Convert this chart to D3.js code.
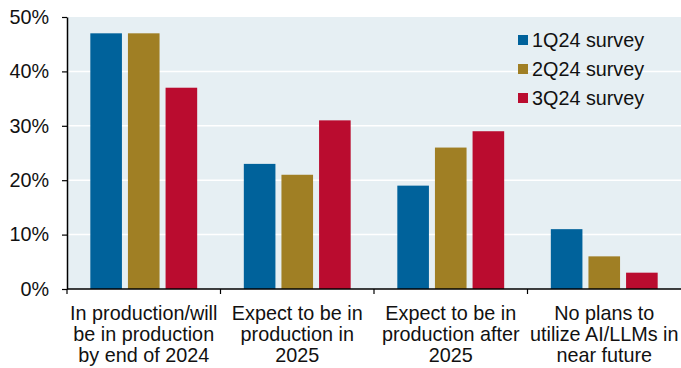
<!DOCTYPE html>
<html>
<head>
<meta charset="utf-8">
<script src="https://cdn.jsdelivr.net/npm/d3@7"></script>
<style>
  html, body { margin: 0; padding: 0; background: #fff; }
  svg { display: block; font-family: Arial, "Liberation Sans", sans-serif; }
</style>
</head>
<body>
<div id="chart"></div>
<script>
// survey results, share of respondents
const categories = [
  ["In production/will", "be in production", "by end of 2024"],
  ["Expect to be in", "production in", "2025"],
  ["Expect to be in", "production after", "2025"],
  ["No plans to", "utilize AI/LLMs in", "near future"]
];
const seriesNames = ["1Q24 survey", "2Q24 survey", "3Q24 survey"];
const q1 = [0.47, 0.23, 0.19, 0.11];
const q2 = [0.47, 0.21, 0.26, 0.06];
const q3 = [0.37, 0.31, 0.29, 0.03];
const yTicks = [0, 0.1, 0.2, 0.3, 0.4, 0.5];
const colors = ["#00629b", "#a07f24", "#ba0c2f"];

const W = 681, H = 368;
const margin = { l: 67, r: 0, t: 17, b: 79 };
const plotW = W - margin.l - margin.r;
const plotH = H - margin.t - margin.b;
const fs = 19.8;

const svg = d3.select("#chart").append("svg")
  .attr("width", W)
  .attr("height", H);

const g = svg.append("g").attr("transform", `translate(${margin.l},${margin.t})`);

const x0 = d3.scaleBand()
  .domain(d3.range(categories.length))
  .range([0, plotW])
  .padding(0);

const x1 = d3.scaleBand()
  .domain(seriesNames)
  .range([0, x0.bandwidth()])
  .paddingInner(0.16)
  .paddingOuter(0.62);

const y = d3.scaleLinear().domain([0, 0.5]).range([plotH, 0]);

g.append("rect")
  .attr("width", plotW)
  .attr("height", plotH)
  .attr("fill", "#e6eff3");

// white gridlines
g.selectAll(".grid")
  .data(yTicks.slice(1, -1))
  .join("line")
  .attr("x1", 0).attr("x2", plotW)
  .attr("y1", d => y(d)).attr("y2", d => y(d))
  .attr("stroke", "#fff")
  .attr("stroke-width", 1.5);

const allSeries = [q1, q2, q3];
const rows = categories.map((c, i) => seriesNames.map((s, j) => ({ cat: i, name: s, value: allSeries[j][i], color: colors[j] })));

g.selectAll(".grp")
  .data(rows)
  .join("g")
  .attr("transform", (d, i) => `translate(${x0(i)},0)`)
  .selectAll("rect")
  .data(d => d)
  .join("rect")
  .attr("x", d => x1(d.name))
  .attr("y", d => y(d.value))
  .attr("width", x1.bandwidth())
  .attr("height", d => plotH - y(d.value))
  .attr("fill", d => d.color);

// y axis
const yAxis = g.append("g")
  .call(d3.axisLeft(y).tickValues(yTicks).tickFormat(d3.format(".0%")).tickSize(5).tickSizeOuter(0));
yAxis.select(".domain").attr("stroke", "#000").attr("stroke-width", 1.5);
yAxis.selectAll(".tick line").attr("stroke", "#000").attr("stroke-width", 1.2);
yAxis.selectAll(".tick text")
  .attr("x", -18)
  .attr("font-size", fs)
  .attr("fill", "#111")
  .attr("font-family", "Arial, 'Liberation Sans', sans-serif");

// x axis
g.append("line")
  .attr("x1", 0).attr("x2", plotW)
  .attr("y1", plotH).attr("y2", plotH)
  .attr("stroke", "#000").attr("stroke-width", 1.5);

g.selectAll(".xtick")
  .data(d3.range(categories.length))
  .join("line")
  .attr("x1", d => x0(d)).attr("x2", d => x0(d))
  .attr("y1", plotH).attr("y2", plotH + 5)
  .attr("stroke", "#000").attr("stroke-width", 1.2);

const labels = g.selectAll(".xlabel")
  .data(categories)
  .join("text")
  .attr("text-anchor", "middle")
  .attr("font-size", fs)
  .attr("fill", "#111")
  .attr("transform", (d, i) => `translate(${x0(i) + x0.bandwidth() / 2},${plotH + 31})`);

labels.selectAll("tspan")
  .data(d => d)
  .join("tspan")
  .attr("x", 0)
  .attr("y", (d, i) => i * 21)
  .text(d => d);

// legend
const legend = svg.append("g").attr("transform", "translate(518,40)");
const items = legend.selectAll("g")
  .data(seriesNames)
  .join("g")
  .attr("transform", (d, i) => `translate(0,${i * 29})`);
items.append("rect")
  .attr("x", 0).attr("y", -5)
  .attr("width", 10).attr("height", 10)
  .attr("fill", (d, i) => colors[i]);
items.append("text")
  .attr("x", 14)
  .attr("dy", "0.35em")
  .attr("font-size", fs)
  .attr("fill", "#111")
  .text(d => d);
</script>
</body>
</html>
